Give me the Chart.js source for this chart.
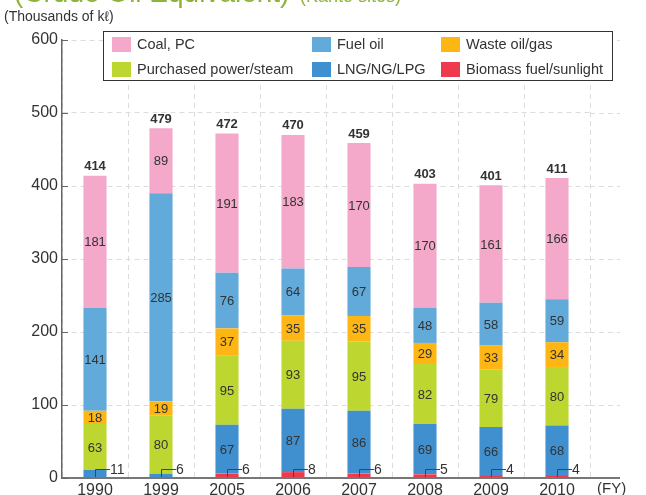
<!DOCTYPE html>
<html>
<head>
<meta charset="utf-8">
<script src="https://cdn.jsdelivr.net/npm/chart.js@4.4.1/dist/chart.umd.min.js"></script>
<style>
  html, body { margin: 0; padding: 0; background: #fff; }
  #wrap { width: 646px; height: 495px; position: relative; }
</style>
</head>
<body>
<div id="wrap"><canvas id="energyChart" width="646" height="495"></canvas></div>
<script>
// data (thousands of kl, crude oil equivalent)
const years = ["1990", "1999", "2005", "2006", "2007", "2008", "2009", "2010"];
const biomass = [0, 0, 6, 8, 6, 5, 4, 4];
const lng = [11, 6, 67, 87, 86, 69, 66, 68];
const purchased = [63, 80, 95, 93, 95, 82, 79, 80];
const wasteOil = [18, 19, 37, 35, 35, 29, 33, 34];
const fuelOil = [141, 285, 76, 64, 67, 48, 58, 59];
const coal = [181, 89, 191, 183, 170, 170, 161, 166];
const totals = [414, 479, 472, 470, 459, 403, 401, 411];
const yTicks = [0, 100, 200, 300, 400, 500, 600];

const FONT = "'Liberation Sans', Arial, Helvetica, sans-serif";
const TXT = "#333";

// stacked bottom -> top
const datasets = [
  { label: "Biomass fuel/sunlight", data: biomass, backgroundColor: "#EE3A4C" },
  { label: "LNG/NG/LPG", data: lng, backgroundColor: "#4090D0" },
  { label: "Purchased power/steam", data: purchased, backgroundColor: "#BED630" },
  { label: "Waste oil/gas", data: wasteOil, backgroundColor: "#FDB614" },
  { label: "Fuel oil", data: fuelOil, backgroundColor: "#62AAD9" },
  { label: "Coal, PC", data: coal, backgroundColor: "#F4A9CB" },
];
// legend order as in the picture (row by row, 3 columns)
const legendOrder = ["Coal, PC", "Fuel oil", "Waste oil/gas", "Purchased power/steam", "LNG/NG/LPG", "Biomass fuel/sunlight"];

const labelsPlugin = {
  id: "labelsPlugin",
  afterDatasetsDraw(chart) {
    const ctx = chart.ctx;
    ctx.save();
    ctx.fillStyle = TXT;
    ctx.textBaseline = "middle";
    chart.data.datasets.forEach((ds, di) => {
      const meta = chart.getDatasetMeta(di);
      meta.data.forEach((bar, i) => {
        const v = ds.data[i];
        if (!v) return;
        if (v >= 15) {
          ctx.font = "13px " + FONT;
          ctx.textAlign = "center";
          ctx.fillText(v, bar.x, (bar.y + bar.base) / 2 + 1);
        } else {
          // small value: leader line to the right
          const base = chart.scales.y.getPixelForValue(0);
          ctx.strokeStyle = "#444";
          ctx.lineWidth = 1;
          ctx.beginPath();
          ctx.moveTo(bar.x + 0.5, base - 1);
          ctx.lineTo(bar.x + 0.5, base - 8.5);
          ctx.lineTo(bar.x + 15, base - 8.5);
          ctx.stroke();
          ctx.font = "14px " + FONT;
          ctx.textAlign = "left";
          ctx.fillText(v, bar.x + 15, base - 8);
        }
      });
    });
    // totals on top
    const top = chart.getDatasetMeta(chart.data.datasets.length - 1);
    ctx.font = "bold 13px " + FONT;
    ctx.textAlign = "center";
    top.data.forEach((bar, i) => {
      ctx.fillText(totals[i], bar.x, bar.y - 9);
    });
    ctx.restore();
  },
  afterDraw(chart) {
    const ctx = chart.ctx;
    const a = chart.chartArea;
    const y = chart.scales.y;
    const ext = 620;
    ctx.save();
    // extend horizontal grid and x axis to the right
    ctx.strokeStyle = "#dcdcdc";
    ctx.lineWidth = 1;
    ctx.setLineDash([5, 4]);
    yTicks.slice(1).forEach((t) => {
      const py = Math.round(y.getPixelForValue(t)) + 0.5;
      ctx.beginPath();
      ctx.moveTo(a.right, py);
      ctx.lineTo(ext, py);
      ctx.stroke();
    });
    ctx.setLineDash([]);
    ctx.strokeStyle = "#777";
    ctx.lineWidth = 2;
    ctx.beginPath();
    ctx.moveTo(a.left, a.bottom);
    ctx.lineTo(ext, a.bottom);
    ctx.stroke();
    // inner ticks on y axis
    ctx.strokeStyle = "#666";
    ctx.lineWidth = 1;
    yTicks.forEach((t) => {
      const py = Math.round(y.getPixelForValue(t)) + 0.5;
      ctx.beginPath();
      ctx.moveTo(a.left, py);
      ctx.lineTo(a.left + 6, py);
      ctx.stroke();
    });
    // (FY)
    ctx.fillStyle = TXT;
    ctx.font = "15px " + FONT;
    ctx.textAlign = "left";
    ctx.textBaseline = "middle";
    ctx.fillText("(FY)", 597, 489);
    // unit
    ctx.font = "14px " + FONT;
    ctx.fillText("(Thousands of k\u2113)", 4, 17);
    // cut-off title at the very top
    ctx.fillStyle = "#8DB33C";
    ctx.textBaseline = "alphabetic";
    ctx.font = "28px " + FONT;
    ctx.fillText("(Crude Oil Equivalent)", 14, 2);
    ctx.font = "18px " + FONT;
    ctx.fillText("(Kanto sites)", 300, 2);
    // legend box
    ctx.fillStyle = "#fff";
    ctx.fillRect(103.5, 31.5, 509, 49);
    ctx.strokeStyle = "#333";
    ctx.lineWidth = 1;
    ctx.strokeRect(103.5, 31.5, 509, 49);
    const colX = [112, 312, 441];
    const rowY = [44, 69];
    ctx.font = "14.5px " + FONT;
    ctx.textBaseline = "middle";
    legendOrder.forEach((name, k) => {
      const ds = chart.data.datasets.find((d) => d.label === name);
      const cx = colX[k % 3];
      const cy = rowY[Math.floor(k / 3)];
      ctx.fillStyle = ds.backgroundColor;
      ctx.fillRect(cx, cy - 7, 19, 15);
      ctx.fillStyle = TXT;
      ctx.fillText(name, cx + 25, cy + 1);
    });
    ctx.restore();
  },
};

const ctx = document.getElementById("energyChart").getContext("2d");
const myChart = new Chart(ctx, {
  type: "bar",
  data: { labels: years, datasets: datasets },
  options: {
    responsive: false,
    animation: false,
    layout: { padding: { top: 40, right: 56, left: 0, bottom: 0 } },
    plugins: { legend: { display: false }, tooltip: { enabled: false } },
    datasets: { bar: { barPercentage: 0.35, categoryPercentage: 1.0, borderWidth: 0 } },
    scales: {
      x: {
        stacked: true,
        grid: { color: "#dcdcdc", borderDash: [5, 4], drawTicks: false, offset: true },
        border: { display: false, dash: [5, 4] },
        ticks: { color: TXT, font: { family: FONT, size: 16 }, padding: 3, maxRotation: 0 },
        afterFit(scale) { scale.height = 17; },
      },
      y: {
        stacked: true,
        min: 0,
        max: 600,
        afterBuildTicks(scale) { scale.ticks = yTicks.map((v) => ({ value: v })); },
        grid: { color: "#dcdcdc", drawTicks: false },
        border: { color: "#666", width: 1.5, dash: [5, 4], display: true },
        ticks: { color: TXT, font: { family: FONT, size: 16 }, padding: 4 },
        afterFit(scale) { scale.width = 62; },
      },
    },
  },
  plugins: [labelsPlugin],
});
</script>
</body>
</html>
